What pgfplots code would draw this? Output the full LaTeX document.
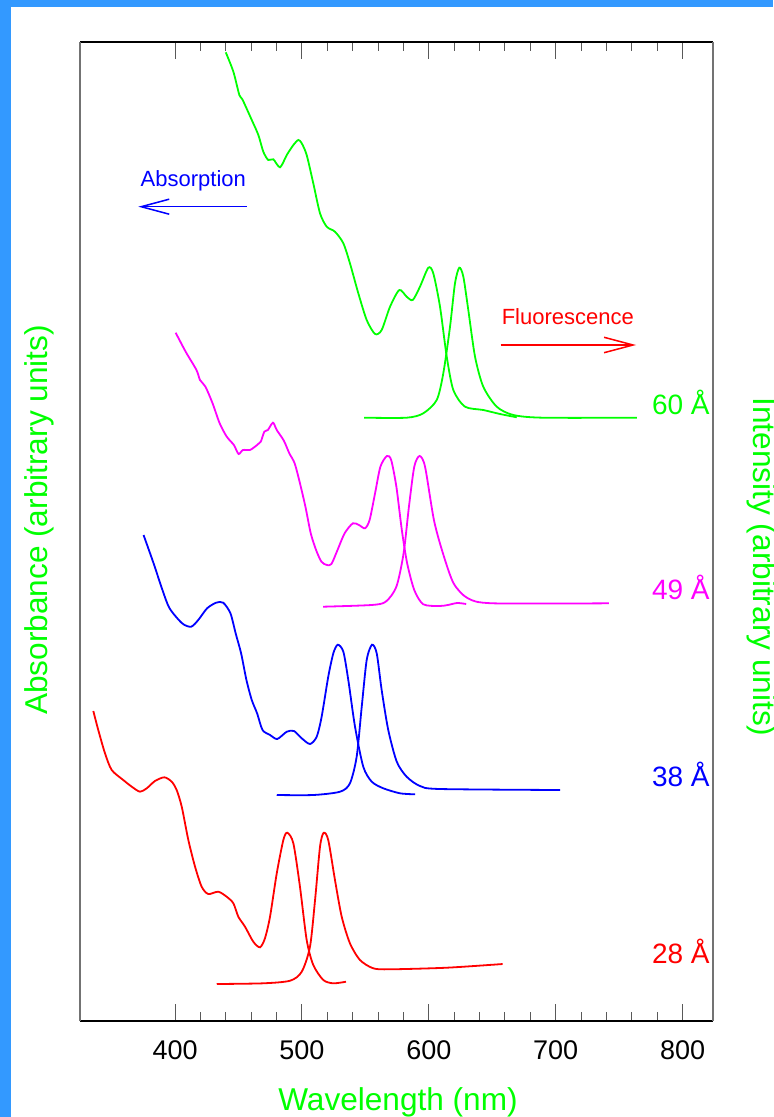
\documentclass[border=0pt]{standalone}
\usepackage{pgfplots}
\pgfplotsset{compat=1.18}
\usepackage{fontspec}
\setmainfont{Liberation Sans}
\usetikzlibrary{arrows.meta}

\definecolor{frameblue}{RGB}{51,153,255}
\definecolor{cgreen}{RGB}{0,255,0}
\definecolor{cmag}{RGB}{255,0,255}
\definecolor{cblue}{RGB}{0,0,255}
\definecolor{cred}{RGB}{255,0,0}

\begin{document}
\begin{tikzpicture}
% page background and frame strips
\fill[white] (0,0) rectangle (386.5pt,-558.5pt);
\fill[frameblue] (0,0) rectangle (5.5pt,-558.5pt);
\fill[frameblue] (0,0) rectangle (386.5pt,-3.5pt);

\begin{axis}[
  scale only axis,
  width=316.5pt, height=489.5pt,
  at={(40pt,-510.5pt)}, anchor=south west,
  xmin=325, xmax=824, ymin=0, ymax=979,
  xtick={400,500,...,800},
  minor x tick num=4,
  ytick=\empty,
  tick align=inside,
  major tick length=8.5pt,
  minor tick length=4.5pt,
  every tick/.style={black!65, line width=0.5pt},
  separate axis lines,
  x axis line style={black, line width=0.7pt},
  y axis line style={black!55, line width=0.7pt},
  /pgf/number format/assume math mode=true,
  xticklabel style={font=\fontsize{13.5}{15}\selectfont, yshift=-6.5pt},
  clip=false,
  every axis plot/.append style={line width=0.9pt, smooth, tension=0.45},
]
% 60 A: absorption
\addplot[cgreen] coordinates {
(439.9,968.7)(445.9,949.3)(450.6,926)(453.0,921.7)(460.4,901)(465.6,886)
(469.5,869.3)(473.4,861)(477.4,861.7)(482.7,853.7)(488.0,866)(493.2,876)
(497.1,881)(499.8,877.7)(503.7,866)(508.9,837.7)(514.2,807.7)(519.5,794.3)
(526.0,789.3)(532.6,777.7)(537.8,757.7)(544.4,727.7)(551.0,701)(557.6,687)
(562.8,691)(569.4,714.3)(576.7,731)(582.5,724.3)(587.3,721)(593.0,734.3)
(599.6,753.3)(603.5,747.7)(608.8,714.3)(614.1,664.3)(619.3,631)(628.5,614.3)
(642.9,611)(656.1,607)(669.3,603.7)};
% 60 A: fluorescence
\addplot[cgreen] coordinates {
(548.9,603.3)(582.5,603.3)(595.6,607.7)(606.2,621)(611.4,647.7)(616.7,694.3)
(620.6,737.7)(624.0,753.3)(627.2,744.3)(631.1,711)(636.4,664.3)(642.9,634.3)
(653.5,614.3)(666.6,606)(690.2,603.3)(763.9,603.3)};
% 49 A: absorption
\addplot[cmag] coordinates {
(400.4,688.3)(408.3,669.3)(416.8,651)(419.6,641)(423.9,634.3)(429.5,617.7)
(435.1,597.7)(440.7,584.3)(446.3,576)(450.0,567)(453.4,571)(459.0,571)
(464.6,576)(467.5,579.3)(470.3,589.3)(473.1,591)(477.1,598.3)(480.1,591)
(485.7,580.3)(490.0,567.7)(494.2,557.7)(498.4,537.7)(502.7,514.3)(506.9,487.7)
(511.1,471)(515.3,459.3)(519.6,456)(523.2,457)(528.0,471)(533.6,487.7)
(540.1,497.7)(544.9,496)(549.7,492.7)(553.3,501)(557.6,527.7)(561.8,554.3)
(566.9,565)(570.3,561)(574.4,534.3)(578.7,491)(582.9,457.7)(588.5,431)
(595.6,416.7)(608.3,415)(615.0,416)(622.3,418)(629.4,417)};
% 49 A: fluorescence
\addplot[cmag] coordinates {
(516.7,414.3)(554.7,416)(566.0,419.3)(574.4,434.3)(580.1,467.7)(584.3,514.3)
(588.5,554.3)(592.7,565)(597.0,554.3)(604.0,501)(611.1,467.7)(619.5,437.7)
(630.8,422.7)(650.5,417.7)(742.0,417.7)};
% 38 A: absorption
\addplot[cblue] coordinates {
(375.1,486)(383.0,457.7)(390.0,431)(395.6,412.7)(405.5,397.7)(412.6,394.3)
(418.2,401)(425.2,412.7)(432.3,418.3)(437.9,418.3)(443.6,407.7)(447.7,387.7)
(452.0,367.7)(456.2,341)(460.4,321)(464.6,307.7)(468.9,291)(474.8,286)
(480.5,282)(488.0,289.3)(493.7,290)(499.8,282.7)(506.3,277)(511.6,284.3)
(515.5,304.3)(520.7,344.3)(524.7,367.7)(528.2,376.3)(532.6,369.3)(536.5,341)
(541.8,294.3)(548.3,254.3)(555.0,239.3)(564.1,232.7)(577.3,227.7)(589.1,226.7)};
% 38 A: fluorescence
\addplot[cblue] coordinates {
(480.1,226)(508.9,226)(530.0,229.3)(537.8,237.7)(543.1,264.3)(547.1,314.3)
(551.0,361)(555.2,376.3)(558.9,367.7)(562.8,331)(568.0,291)(574.7,259.3)
(582.5,244.3)(593.0,235)(608.8,232)(703.4,231)};
% 28 A: absorption
\addplot[cred] coordinates {
(335.5,310)(339.4,291)(344.7,267.7)(350.0,251)(359.1,241)(365.8,234.3)
(372.3,229.3)(377.6,232.7)(384.1,240)(391.5,243.7)(397.3,239.3)(401.2,231)
(405.2,214.3)(410.4,181)(415.7,154.3)(420.9,134.3)(426.1,127)(434.0,129.3)
(440.6,124.3)(445.9,117.7)(449.8,104.3)(455.1,94.3)(461.6,79.3)(466.9,73.7)
(470.8,82.7)(474.8,104.3)(480.1,147.7)(485.3,181)(488.4,188.3)(493.2,177.7)
(498.4,134.3)(503.7,81)(508.9,56)(516.8,41)(524.7,37.7)(534.7,39.3)};
% 28 A: fluorescence
\addplot[cred] coordinates {
(432.8,37)(469.5,37.7)(490.6,40.3)(499.8,49.3)(506.3,74.3)(510.3,121)
(514.2,174.3)(517.1,188.3)(520.7,181)(526.0,141)(531.3,104.3)(537.8,77.7)
(545.7,61)(556.2,52.7)(569.4,51.7)(614.1,53.3)(658.2,57)};
\end{axis}

\begin{scope}[x=0.5pt,y=-0.5pt]
  % direction hints
  \node[cblue, anchor=base, font=\fontsize{11}{13}\selectfont, inner sep=0pt]
    at (193.3,186.7) {Absorption};
  \draw[cblue, line width=0.75pt, -{Straight Barb[length=14pt,width=7.5pt]}]
    (246.7,206.7) -- (138.3,206.7);
  \node[cred, anchor=base, font=\fontsize{11}{13}\selectfont, inner sep=0pt]
    at (567.8,324.3) {Fluorescence};
  \draw[cred, line width=0.75pt, -{Straight Barb[length=14.5pt,width=7.7pt]}]
    (500.7,345) -- (636,345);
  % particle sizes
  \begin{scope}[every node/.style={anchor=base east, inner sep=0pt,
      font=\fontsize{14}{16}\selectfont}]
    \node[cgreen] at (710,414) {60 Å};
    \node[cmag]   at (710,599) {49 Å};
    \node[cblue]  at (710,786) {38 Å};
    \node[cred]   at (710,963) {28 Å};
  \end{scope}
  % axis titles
  \begin{scope}[every node/.style={cgreen, inner sep=0pt, anchor=base,
      font=\fontsize{15.8}{18}\selectfont}]
    \node at (398,1110) {Wavelength (nm)};
    \node[rotate=90] at (47,520) {Absorbance (arbitrary units)};
    \node[rotate=-90] at (753,567) {Intensity (arbitrary units)};
  \end{scope}
\end{scope}

\pgfresetboundingbox
\useasboundingbox (0,0) rectangle (386.5pt,-558.5pt);
\end{tikzpicture}
\end{document}
